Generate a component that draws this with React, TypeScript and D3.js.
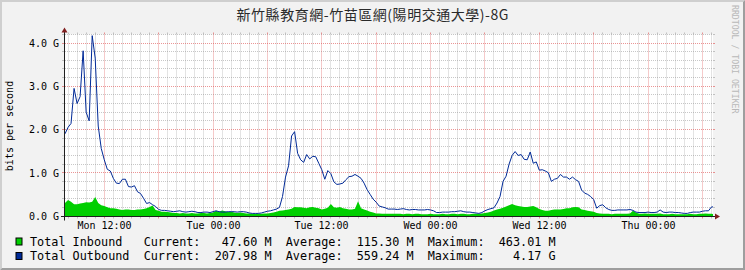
import React from 'react';
import * as d3 from 'd3';

const TITLE = '新竹縣教育網-竹苗區網(陽明交通大學)-8G';
const Y_LABEL = 'bits per second';
const WATERMARK = 'RRDTOOL / TOBI OETIKER';

const START = Date.UTC(2024, 0, 1, 7, 40); // Mon 07:40
const STEP_MIN = 20;
const RANGE_HOURS = 71.5;
const Y_MAX = 4.2;

// Gbit/s, 20-minute steps
const inbound = [
  0.30, 0.37, 0.33, 0.27, 0.27, 0.29, 0.30, 0.32, 0.31, 0.33,
  0.44, 0.30, 0.25, 0.23, 0.20, 0.18, 0.18, 0.17, 0.15, 0.14,
  0.15, 0.15, 0.14, 0.14, 0.15, 0.15, 0.16, 0.18, 0.21, 0.24,
  0.14, 0.12, 0.10, 0.10, 0.09, 0.08, 0.07, 0.07, 0.06, 0.07,
  0.06, 0.06, 0.07, 0.06, 0.06, 0.07, 0.07, 0.06, 0.07, 0.08,
  0.12, 0.10, 0.13, 0.11, 0.09, 0.10, 0.08, 0.07, 0.08, 0.07,
  0.06, 0.06, 0.05, 0.05, 0.05, 0.05, 0.06, 0.06, 0.07, 0.08,
  0.10, 0.12, 0.13, 0.14, 0.15, 0.17, 0.21, 0.20, 0.20, 0.19,
  0.18, 0.20, 0.21, 0.19, 0.18, 0.15, 0.17, 0.19, 0.28, 0.20,
  0.19, 0.21, 0.18, 0.17, 0.15, 0.15, 0.17, 0.34, 0.18, 0.15,
  0.13, 0.10, 0.08, 0.06, 0.06, 0.05, 0.05, 0.05, 0.05, 0.05,
  0.05, 0.05, 0.04, 0.05, 0.05, 0.04, 0.05, 0.05, 0.04, 0.04,
  0.04, 0.05, 0.04, 0.04, 0.04, 0.05, 0.04, 0.04, 0.05, 0.05,
  0.04, 0.05, 0.05, 0.04, 0.04, 0.05, 0.05, 0.05, 0.06, 0.07,
  0.08, 0.10, 0.13, 0.15, 0.17, 0.19, 0.22, 0.25, 0.28, 0.25,
  0.23, 0.22, 0.21, 0.21, 0.22, 0.23, 0.20, 0.16, 0.14, 0.12,
  0.12, 0.14, 0.15, 0.15, 0.15, 0.16, 0.18, 0.18, 0.20, 0.21,
  0.20, 0.15, 0.14, 0.12, 0.11, 0.10, 0.07, 0.06, 0.05, 0.05,
  0.05, 0.04, 0.05, 0.05, 0.05, 0.05, 0.05, 0.06, 0.12, 0.08,
  0.05, 0.05, 0.06, 0.05, 0.05, 0.05, 0.05, 0.06, 0.04, 0.04,
  0.04, 0.05, 0.04, 0.04, 0.04, 0.04, 0.04, 0.05, 0.04, 0.04,
  0.05, 0.05, 0.06, 0.05, 0.05, 0.048,
];

const outbound = [
  1.90, 2.05, 2.14, 2.95, 2.60, 2.76, 3.82, 2.40, 2.20, 4.17,
  3.65, 2.08, 1.56, 1.30, 1.08, 1.04, 0.87, 0.76, 0.75, 0.85,
  0.85, 0.68, 0.67, 0.70, 0.56, 0.52, 0.41, 0.29, 0.31, 0.26,
  0.22, 0.15, 0.13, 0.13, 0.12, 0.11, 0.10, 0.11, 0.12, 0.10,
  0.09, 0.10, 0.11, 0.10, 0.08, 0.08, 0.09, 0.09, 0.08, 0.10,
  0.12, 0.10, 0.09, 0.09, 0.10, 0.10, 0.10, 0.09, 0.10, 0.10,
  0.09, 0.07, 0.06, 0.06, 0.06, 0.07, 0.09, 0.11, 0.12, 0.14,
  0.16, 0.20, 0.45, 0.90, 1.16, 1.85, 1.95, 1.45, 1.30, 1.24,
  1.42, 1.32, 1.38, 1.37, 1.22, 1.07, 0.85, 1.05, 0.98, 0.79,
  0.73, 0.74, 0.76, 0.84, 0.91, 0.92, 0.96, 0.92, 0.87, 0.76,
  0.61, 0.50, 0.39, 0.32, 0.23, 0.21, 0.19, 0.16, 0.16, 0.16,
  0.15, 0.16, 0.17, 0.15, 0.14, 0.15, 0.15, 0.14, 0.14, 0.14,
  0.15, 0.14, 0.12, 0.08, 0.08, 0.09, 0.09, 0.09, 0.10, 0.10,
  0.11, 0.12, 0.10, 0.09, 0.09, 0.08, 0.07, 0.06, 0.08, 0.12,
  0.15, 0.17, 0.19, 0.30, 0.45, 0.80, 0.92, 1.20, 1.40, 1.49,
  1.40, 1.42, 1.31, 1.30, 1.48, 1.22, 1.25, 1.06, 1.07, 1.04,
  1.00, 0.80, 0.85, 0.87, 0.96, 0.90, 0.90, 0.85, 0.90, 0.84,
  0.80, 0.60, 0.53, 0.50, 0.45, 0.38, 0.18, 0.24, 0.26, 0.19,
  0.15, 0.13, 0.13, 0.14, 0.14, 0.14, 0.14, 0.15, 0.13, 0.09,
  0.08, 0.08, 0.08, 0.09, 0.08, 0.08, 0.09, 0.14, 0.09, 0.08,
  0.09, 0.09, 0.08, 0.08, 0.07, 0.06, 0.06, 0.08, 0.09, 0.09,
  0.09, 0.11, 0.12, 0.12, 0.21, 0.21,
];

const yMajorTicks = [0, 1, 2, 3, 4];
const yTickLabels = ['0.0 G', '1.0 G', '2.0 G', '3.0 G', '4.0 G'];
const legendNames = ['Total Inbound', 'Total Outbound'];
const legendCurrent = ['47.60 M', '207.98 M'];
const legendAverage = ['115.30 M', '559.24 M'];
const legendMaximum = ['463.01 M', '4.17 G'];
const seriesColors = ['#00CF00', '#002A97'];

const W = 745;
const H = 270;
const X0 = 65;
const X1 = 713;
const Y0 = 216;
const PX_PER_G = 43.25;
const MONO = '"DejaVu Sans Mono", monospace';

const crisp = (v: number) => Math.floor(v) + 0.5;

export default function App() {
  const x = d3
    .scaleUtc()
    .domain([new Date(START), new Date(START + RANGE_HOURS * 3600e3)])
    .range([X0, X1]);
  const y = d3.scaleLinear().domain([0, Y_MAX]).range([Y0, Y0 - Y_MAX * PX_PER_G]);
  const yTop = y(Y_MAX);

  const times = inbound.map((_, i) => new Date(START + i * STEP_MIN * 60e3));
  const inData = inbound.map((v, i) => ({ t: times[i], v }));
  const outData = outbound.map((v, i) => ({ t: times[i], v }));

  const area = d3
    .area<{ t: Date; v: number }>()
    .x((d) => x(d.t))
    .y0(y(0) + 0.5)
    .y1((d) => y(d.v));
  const line = d3
    .line<{ t: Date; v: number }>()
    .x((d) => x(d.t))
    .y((d) => y(d.v));

  const [d0, d1] = x.domain();
  const hourLines = d3.utcHour.every(1)!.range(d0, d1).filter((d) => d.getUTCHours() % 6 !== 0);
  const sixHourLines = d3.utcHour.every(6)!.range(d0, d1);
  const labelTimes = d3.utcHour.every(12)!.range(d0, d1);
  const fmt = d3.utcFormat('%a %H:%M');

  const yMinor = d3.range(1, Math.round(Y_MAX / 0.2) + 1).map((k) => k * 0.2).filter((v) => Math.abs(v - Math.round(v)) > 1e-6);

  const minorCol = 'rgba(143,143,143,0.5)';
  const majorCol = 'rgba(222,79,79,0.6)';
  const plotTopPx = crisp(yTop);
  const yBottomPx = crisp(y(0));

  const legendLines = legendNames.map(
    (n, i) =>
      n.padEnd(16) +
      'Current:' +
      legendCurrent[i].padStart(10) +
      '  Average:' +
      legendAverage[i].padStart(10) +
      '  Maximum:' +
      legendMaximum[i].padStart(10)
  );

  return (
    <svg
      width={W}
      height={H}
      style={{ position: 'absolute', left: 0, top: 0, display: 'block' }}
      xmlns="http://www.w3.org/2000/svg"
    >
      <defs>
        <clipPath id="plotclip">
          <rect x={X0} y={yTop} width={X1 - X0} height={Y0 - yTop + 1} />
        </clipPath>
      </defs>
      {/* background and border shades */}
      <rect x={0} y={0} width={W} height={H} fill="#F2F2F2" />
      <path d={`M0,0 L${W},0 L${W - 2},2 L2,2 L2,${H - 2} L0,${H} Z`} fill="#CFCFCF" />
      <path d={`M${W},0 L${W},${H} L0,${H} L2,${H - 2} L${W - 2},${H - 2} L${W - 2},2 Z`} fill="#9E9E9E" />

      {/* canvas */}
      <rect x={X0} y={yTop} width={X1 - X0} height={Y0 - yTop + 1} fill="#FFFFFF" />

      {/* minor grid vertical */}
      {hourLines.map((d, i) => {
        const px = crisp(x(d));
        return (
          <g key={'hv' + i} stroke={minorCol} strokeWidth={1}>
            <line x1={px} x2={px} y1={yBottomPx} y2={plotTopPx} strokeDasharray="1,1" />
            <line x1={px} x2={px} y1={yBottomPx} y2={yBottomPx + 2} />
            <line x1={px} x2={px} y1={plotTopPx - 2} y2={plotTopPx} />
          </g>
        );
      })}
      {/* minor grid horizontal */}
      {yMinor.map((v, i) => {
        const py = crisp(y(v));
        return (
          <g key={'hh' + i} stroke={minorCol} strokeWidth={1}>
            <line x1={X0} x2={X1} y1={py} y2={py} strokeDasharray="1,1" />
            <line x1={X0 - 3} x2={X0} y1={py} y2={py} />
            <line x1={X1} x2={X1 + 2} y1={py} y2={py} />
          </g>
        );
      })}
      {/* major grid vertical */}
      {sixHourLines.map((d, i) => {
        const px = crisp(x(d));
        return (
          <g key={'mv' + i} stroke={majorCol} strokeWidth={1}>
            <line x1={px} x2={px} y1={yBottomPx} y2={plotTopPx} strokeDasharray="1,1" />
            <line x1={px} x2={px} y1={yBottomPx} y2={yBottomPx + 2} />
            <line x1={px} x2={px} y1={plotTopPx - 2} y2={plotTopPx} />
          </g>
        );
      })}
      {/* major grid horizontal */}
      {yMajorTicks.map((v, i) => {
        const py = crisp(y(v));
        return (
          <g key={'mh' + i} stroke={majorCol} strokeWidth={1}>
            {v > 0 && <line x1={X0} x2={X1} y1={py} y2={py} strokeDasharray="1,1" />}
            <line x1={X0 - 3} x2={X0} y1={py} y2={py} />
            <line x1={X1} x2={X1 + 2} y1={py} y2={py} />
          </g>
        );
      })}

      {/* data */}
      <g clipPath="url(#plotclip)">
        <path d={area(inData) || ''} fill={seriesColors[0]} />
        <path d={line(outData) || ''} fill="none" stroke={seriesColors[1]} strokeWidth={1} />
      </g>

      {/* axes */}
      <line x1={X0 - 4} x2={X1 + 4} y1={yBottomPx} y2={yBottomPx} stroke="#1F1F1F" strokeWidth={1} />
      <line x1={X0 - 0.5} x2={X0 - 0.5} y1={yBottomPx + 4} y2={plotTopPx - 4} stroke="#1F1F1F" strokeWidth={1} />
      <path
        d={`M${X1 + 2},${yBottomPx - 3} L${X1 + 2},${yBottomPx + 3} L${X1 + 7},${yBottomPx} Z`}
        fill="#801F1F"
      />
      <path
        d={`M${X0 - 3.5},${plotTopPx - 2} L${X0 + 2.5},${plotTopPx - 2} L${X0 - 0.5},${plotTopPx - 7} Z`}
        fill="#801F1F"
      />

      {/* y labels */}
      {yMajorTicks.map((v, i) => (
        <text
          key={'yl' + i}
          x={59}
          y={y(v) + 3.8}
          textAnchor="end"
          fontFamily={MONO}
          fontSize={10}
          fill="#000"
        >
          {yTickLabels[i]}
        </text>
      ))}
      {/* x labels */}
      {labelTimes.map((d, i) => (
        <text
          key={'xl' + i}
          x={crisp(x(d))}
          y={229}
          textAnchor="middle"
          fontFamily={MONO}
          fontSize={10}
          fill="#000"
        >
          {fmt(d)}
        </text>
      ))}

      {/* title */}
      <text
        x={W / 2}
        y={20}
        textAnchor="middle"
        fontFamily='"Noto Sans CJK TC", "Noto Sans CJK SC", sans-serif'
        fontSize={14}
        textLength={272}
        lengthAdjust="spacing"
        fill="#2a2a2a"
      >
        {TITLE}
      </text>

      {/* vertical label */}
      <text
        transform={`translate(13,126) rotate(-90)`}
        textAnchor="middle"
        fontFamily={MONO}
        fontSize={10}
        fill="#000"
      >
        {Y_LABEL}
      </text>

      {/* watermark */}
      <text
        transform={`translate(732,5) rotate(90)`}
        textAnchor="start"
        fontFamily={MONO}
        fontSize={8.2}
        fill="#B8B8B8"
      >
        {WATERMARK}
      </text>

      {/* legend */}
      {legendLines.map((s, i) => (
        <g key={'lg' + i}>
          <rect
            x={16}
            y={238 + i * 14.5}
            width={6}
            height={7}
            fill={seriesColors[i]}
            stroke="#000"
            strokeWidth={1}
          />
          <text
            x={30}
            y={245.5 + i * 14.5}
            fontFamily={MONO}
            fontSize={11.8}
            fill="#000"
            style={{ whiteSpace: 'pre' }}
            xmlSpace="preserve"
          >
            {s}
          </text>
        </g>
      ))}
    </svg>
  );
}
